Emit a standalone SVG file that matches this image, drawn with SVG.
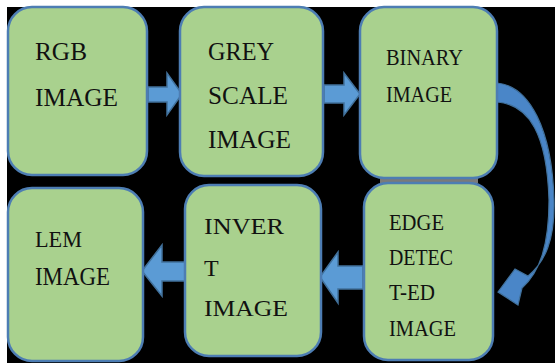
<svg xmlns="http://www.w3.org/2000/svg" width="555" height="363" viewBox="0 0 555 363">
  <style>
    .box { fill: #a9d18e; stroke: #4d7db3; stroke-width: 2.5; }
    .arrow { fill: #5b9bd5; stroke: #41719c; stroke-width: 1.5; stroke-linejoin: miter; }
    .curve { fill: #4a86c8; stroke: #41719c; stroke-width: 1.2; }
  </style>

  <!-- page: white margin at top and left, black canvas -->
  <rect x="0" y="0" width="555" height="363" fill="#ffffff"/>
  <rect x="7" y="7" width="548" height="356" fill="#000000"/>
  <rect x="380" y="178" width="98" height="5" fill="#7a7a7a"/>

  <!-- connectors -->
  <g id="connectors">
    <!-- RGB -> GREY SCALE -->
    <path class="arrow" d="M148,87 H167 V73 L182,94 L167,115 V102 H148 Z"/>
    <!-- GREY SCALE -> BINARY -->
    <path class="arrow" d="M324,85 H344 V73 L360,94 L344,115 V103 H324 Z"/>
    <!-- BINARY -> EDGE DETECTED (curved) -->
    <path class="curve" d="M497,83 C530,86 552,130 554,200 C555,240 545,262 528,276 L515,269 L498,292 L518,305 L522,288 C540,272 549,245 549,200 C547,135 530,105 497,102 Z"/>
    <!-- EDGE DETECTED -> INVERT -->
    <path class="arrow" d="M363,266 H338 V252 L320,277 L338,303 V289 H363 Z"/>
    <!-- INVERT -> LEM -->
    <path class="arrow" d="M185,262 H162 V245 L142,271 L162,296 V281 H185 Z"/>
  </g>

  <g font-family="Liberation Serif, serif" fill="#111111" lengthAdjust="spacingAndGlyphs">
    <g id="rgb">
      <rect class="box" x="8" y="7" width="139" height="168" rx="24"/>
      <text x="35" y="60" font-size="26" textLength="52" lengthAdjust="spacingAndGlyphs">RGB</text>
      <text x="35" y="106" font-size="26" textLength="83" lengthAdjust="spacingAndGlyphs">IMAGE</text>
    </g>

    <g id="grey">
      <rect class="box" x="180" y="7" width="143" height="169" rx="24"/>
      <text x="208" y="60" font-size="26" textLength="66" lengthAdjust="spacingAndGlyphs">GREY</text>
      <text x="208" y="104" font-size="26" textLength="80" lengthAdjust="spacingAndGlyphs">SCALE</text>
      <text x="208" y="148" font-size="26" textLength="83" lengthAdjust="spacingAndGlyphs">IMAGE</text>
    </g>

    <g id="binary">
      <rect class="box" x="360" y="7" width="137" height="171" rx="24"/>
      <text x="386" y="65" font-size="23" textLength="77" lengthAdjust="spacingAndGlyphs">BINARY</text>
      <text x="386" y="102" font-size="24" textLength="66" lengthAdjust="spacingAndGlyphs">IMAGE</text>
    </g>

    <g id="edge">
      <rect class="box" x="364" y="183" width="129" height="177" rx="24"/>
      <text x="389" y="230" font-size="23" textLength="55" lengthAdjust="spacingAndGlyphs">EDGE</text>
      <text x="389" y="265" font-size="23" textLength="64" lengthAdjust="spacingAndGlyphs">DETEC</text>
      <text x="389" y="300" font-size="23" textLength="46" lengthAdjust="spacingAndGlyphs">T-ED</text>
      <text x="389" y="336" font-size="23" textLength="67" lengthAdjust="spacingAndGlyphs">IMAGE</text>
    </g>

    <g id="invert">
      <rect class="box" x="185" y="185" width="136" height="171" rx="24"/>
      <text x="204" y="234" font-size="24" textLength="80" lengthAdjust="spacingAndGlyphs">INVER</text>
      <text x="204" y="276" font-size="24">T</text>
      <text x="204" y="316" font-size="24" textLength="84" lengthAdjust="spacingAndGlyphs">IMAGE</text>
    </g>

    <g id="lem">
      <rect class="box" x="8" y="188" width="135" height="173" rx="24"/>
      <text x="35" y="247" font-size="24" textLength="47" lengthAdjust="spacingAndGlyphs">LEM</text>
      <text x="35" y="285" font-size="25" textLength="75" lengthAdjust="spacingAndGlyphs">IMAGE</text>
    </g>
  </g>
</svg>
